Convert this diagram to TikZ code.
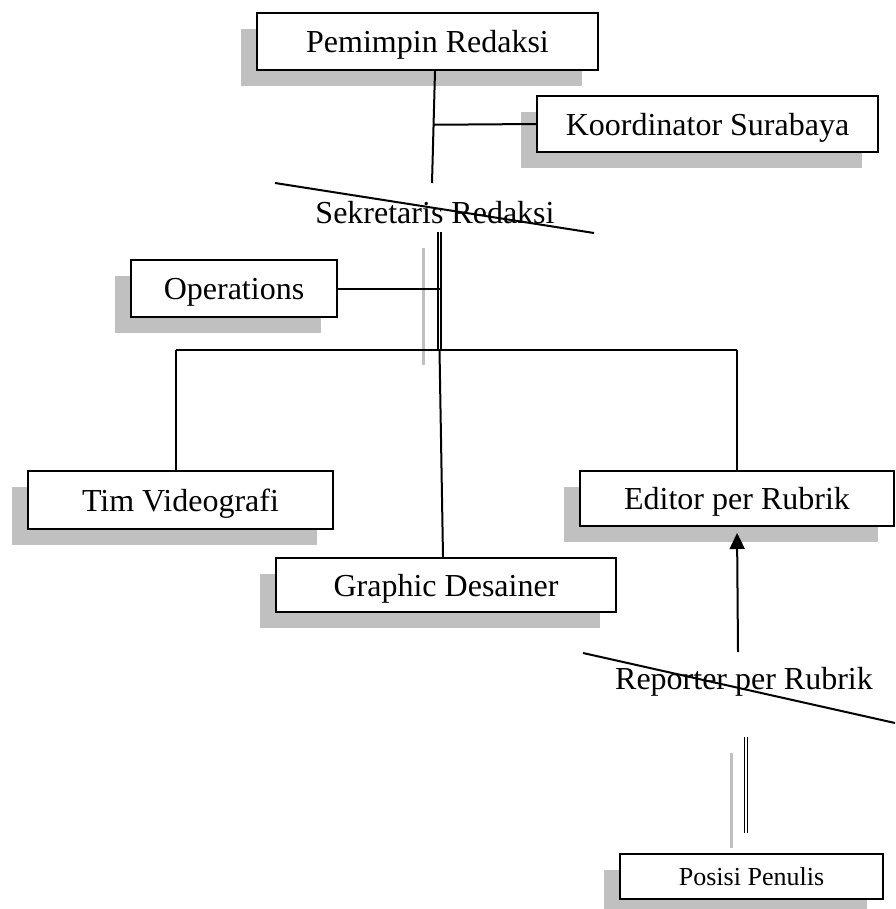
\documentclass[tikz,border=0pt]{standalone}
\usepackage{fontspec}
\setmainfont{Liberation Serif}
\usetikzlibrary{arrows.meta,positioning,calc,shadows}
\definecolor{shadowgray}{HTML}{C0C0C0}
\begin{document}
\begin{tikzpicture}[
      x=0.5pt,y=-0.5pt,line width=1pt,
      box/.style = {rectangle,draw,fill=white,text centered,inner sep=0,text depth=0pt,font=\fontsize{16}{19}\selectfont,
        drop shadow={shadow xshift=-8pt,shadow yshift=-8pt,fill=shadowgray,opacity=1}},
      plain/.style = {inner sep=0,font=\fontsize{16}{19}\selectfont},
      dline/.style = {double,double distance=0.6pt,line width=0.75pt},
      gline/.style = {shadowgray,line width=1.5pt},
      arrow/.style = {-{Triangle[length=8pt,width=7.5pt]}}
      ]
      \useasboundingbox (0,0) rectangle (895,909);
      \node (pemimpin)[box,minimum width=170.5pt,minimum height=28.5pt] at (427.5,41.5) {Pemimpin Redaksi};
      \node (koord)[box,minimum width=170.5pt,minimum height=28pt] at (707.5,124) {Koordinator Surabaya};
      \node (sek)[plain] at (435,213) {Sekretaris Redaksi};
      \node (ops)[box,minimum width=103pt,minimum height=28.5pt] at (234,288.5) {Operations};
      \node (tim)[box,minimum width=152.5pt,minimum height=29pt] at (180.5,500) {Tim Videografi};
      \node (editor)[box,minimum width=157pt,minimum height=27.5pt] at (737,498.5) {Editor per Rubrik};
      \node (graphic)[box,minimum width=170pt,minimum height=27pt] at (446,585) {Graphic Desainer};
      \node (rep)[plain] at (744,682) {Reporter per Rubrik};
      \node (posisi)[box,minimum width=131.5pt,minimum height=22.5pt,font=\fontsize{13}{16}\selectfont] at (751.5,876.5) {Posisi Penulis};

      \coordinate (sekTop) at (432,183);
      \coordinate (sekBot) at (439.5,232);
      \coordinate (busL) at (176,350);
      \coordinate (busM) at (439.5,350);
      \coordinate (busR) at (737,350);
      \coordinate (grayA) at (423,248);
      \coordinate (grayB) at (423,365);
      \coordinate (strikeA) at (275,183);
      \coordinate (strikeB) at (594,233);
      \coordinate (repTop) at (738,652);
      \coordinate (repBot) at (746,737);
      \coordinate (posTop) at (746,833);
      \coordinate (grayC) at (731,753);
      \coordinate (grayD) at (731,848);
      \coordinate (strikeC) at (583,653);
      \coordinate (strikeD) at (895,723);

      \draw ($(pemimpin.south)+(7.5,0)$) -- (sekTop);
      \draw (koord.west) -- ($($(pemimpin.south)+(7.5,0)$)!0.48!(sekTop)$);
      \draw (strikeA) -- (strikeB);
      \draw [gline] (grayA) -- (grayB);
      \draw [dline] (sekBot) -- (busM);
      \draw (ops.east) -- (ops.east -| busM);
      \draw (busL) -- (busR);
      \draw (busL) -- (busL |- tim.north);
      \draw (busR) -- (busR |- editor.north);
      \draw (busM) -- ($(graphic.north)+(-3,0)$);
      \draw [arrow,shorten >=3pt] (repTop) -- (editor.south);
      \draw (strikeC) -- (strikeD);
      \draw [gline] (grayC) -- (grayD);
      \draw [dline] (repBot) -- (posTop);
    \end{tikzpicture}
\end{document}
